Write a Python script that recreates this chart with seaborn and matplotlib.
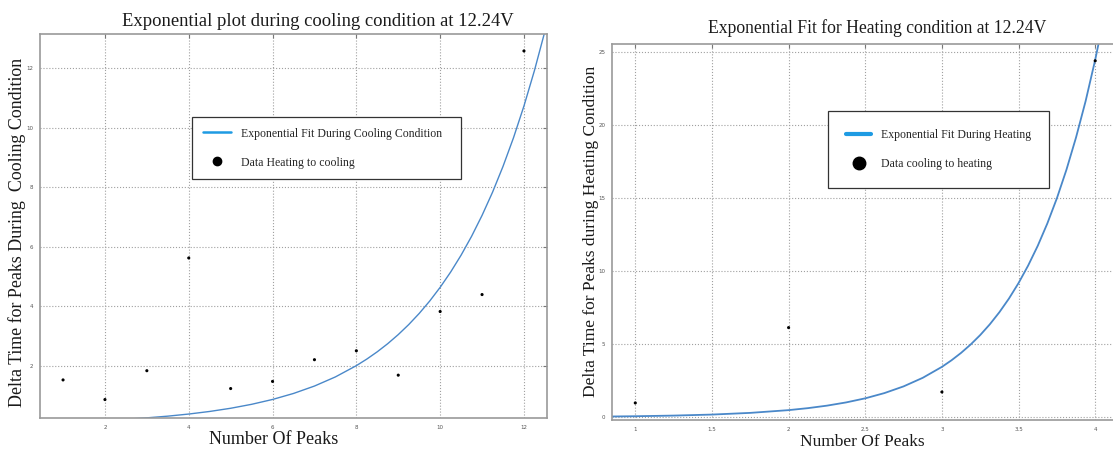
import matplotlib
matplotlib.use("Agg")
import matplotlib.pyplot as plt
from matplotlib.lines import Line2D
import seaborn as sns
import pandas as pd

# cooling condition (left panel)
cool_peaks = [1, 2, 3, 4, 5, 6, 7, 8, 9, 10, 11, 12]
cool_dt = [1.52, 0.86, 1.83, 5.62, 1.23, 1.47, 2.20, 2.50, 1.68, 3.82, 4.39, 12.58]
cool_fit_x = [2.5, 3.0, 3.5, 4.0, 4.5, 5.0, 5.5, 6.0, 6.5, 7.0, 7.5, 8.0, 8.25, 8.5,
              8.75, 9.0, 9.25, 9.5, 9.75, 10.0, 10.25, 10.5, 10.75, 11.0, 11.25, 11.5,
              11.75, 12.0, 12.25, 12.5]
cool_fit_y = [0.199, 0.245, 0.302, 0.373, 0.460, 0.567, 0.700, 0.863, 1.065, 1.314,
              1.621, 2.0, 2.221, 2.467, 2.740, 3.044, 3.381, 3.755, 4.171, 4.633,
              5.146, 5.715, 6.348, 7.051, 7.83, 8.698, 9.66, 10.73, 11.92, 13.24]

# heating condition (right panel)
heat_peaks = [1, 2, 3, 4]
heat_dt = [0.98, 6.14, 1.73, 24.42]
heat_fit_x = [0.85, 1.0, 1.25, 1.5, 1.75, 2.0, 2.125, 2.25, 2.375, 2.5, 2.625, 2.75,
              2.875, 3.0, 3.0625, 3.125, 3.1875, 3.25, 3.3125, 3.375, 3.4375, 3.5,
              3.5625, 3.625, 3.6875, 3.75, 3.8125, 3.875, 3.9375, 4.0, 4.05]
heat_fit_y = [0.051, 0.068, 0.112, 0.182, 0.298, 0.486, 0.621, 0.793, 1.014, 1.295,
              1.654, 2.113, 2.700, 3.45, 3.900, 4.408, 4.982, 5.631, 6.365, 7.195,
              8.132, 9.192, 10.39, 11.74, 13.27, 15.0, 16.96, 19.17, 21.66, 24.49,
              27.01]

sns.set_style("white")
plt.rcParams['font.family'] = ['DejaVu Sans']
serif = ['Liberation Serif', 'DejaVu Serif']
W, H = 1113, 450
fit_color = '#4a88c9'
leg_color = '#1e9be3'
edge = '#9a9a9a'

fig = plt.figure(figsize=(W / 100, H / 100), dpi=100)
ax1 = fig.add_axes([40 / W, 1 - 417.7 / H, 507 / W, 383.7 / H])
ax2 = fig.add_axes([612.3 / W, 1 - 420 / H, 505.9 / W, 375.7 / H])

cool_pts = pd.DataFrame({'x': cool_peaks, 'y': cool_dt})
cool_fit = pd.DataFrame({'x': cool_fit_x, 'y': cool_fit_y})
heat_pts = pd.DataFrame({'x': heat_peaks, 'y': heat_dt})
heat_fit = pd.DataFrame({'x': heat_fit_x, 'y': heat_fit_y})

sns.lineplot(data=cool_fit, x='x', y='y', ax=ax1, color=fit_color, lw=1.0,
             sort=False, estimator=None)
sns.scatterplot(data=cool_pts, x='x', y='y', ax=ax1, color='black', s=5,
                edgecolor='none', zorder=3)
sns.lineplot(data=heat_fit, x='x', y='y', ax=ax2, color=fit_color, lw=1.3,
             sort=False, estimator=None)
sns.scatterplot(data=heat_pts, x='x', y='y', ax=ax2, color='black', s=5,
                edgecolor='none', zorder=3)

ax1.set_xlim(0.45, 12.55)
ax1.set_ylim(0.25, 13.15)
ax1.set_xticks([2, 4, 6, 8, 10, 12])
ax1.set_yticks([2, 4, 6, 8, 10, 12])
ax2.set_xlim(0.85, 4.15)
ax2.set_ylim(-0.19, 25.55)
ax2.set_xticks([1, 1.5, 2, 2.5, 3, 3.5, 4])
ax2.set_xticklabels(['1', '1.5', '2', '2.5', '3', '3.5', '4'])
ax2.set_yticks([0, 5, 10, 15, 20, 25])

for ax in (ax1, ax2):
    ax.set_xlabel('')
    ax.set_ylabel('')
    ax.grid(True, linestyle=':', color='#a0a0a0', lw=0.8)
    ax.set_axisbelow(True)
    ax.tick_params(direction='in', top=True, right=True, length=3, width=0.8,
                   color='#777777', labelsize=4, labelcolor='#555555', pad=5)
    for s in ax.spines.values():
        s.set_color(edge)
        s.set_linewidth(1.2)

# legends
h1 = [Line2D([], [], color=leg_color, lw=1.8),
      Line2D([], [], color='black', marker='o', ls='none', markersize=6)]
ax1.legend(h1, ['Exponential Fit During Cooling Condition', 'Data Heating to cooling'],
           loc='upper left', bbox_to_anchor=(0.30, 0.619, 0.53, 0.165), mode='expand',
           borderaxespad=0, frameon=True, fancybox=False, edgecolor='#333333',
           framealpha=1, prop={'family': serif, 'size': 8.5}, handlelength=2.4,
           handletextpad=0.8, labelspacing=1.45, borderpad=0.9)
h2 = [Line2D([], [], color=leg_color, lw=3),
      Line2D([], [], color='black', marker='o', ls='none', markersize=9)]
ax2.legend(h2, ['Exponential Fit During Heating', 'Data cooling to heating'],
           loc='upper left', bbox_to_anchor=(0.426, 0.617, 0.437, 0.205), mode='expand',
           borderaxespad=0, frameon=True, fancybox=False, edgecolor='#333333',
           framealpha=1, prop={'family': serif, 'size': 8.5}, handlelength=2.2,
           handletextpad=0.8, labelspacing=1.45, borderpad=1.5)
for lg in (ax1.get_legend(), ax2.get_legend()):
    lg.get_frame().set_linewidth(0.9)

# titles and axis labels
fig.text(318 / W, 1 - 22 / H, 'Exponential plot during cooling condition at 12.24V',
         ha='center', va='center', family=serif, fontsize=13.4, color='#1a1a1a')
fig.text(877 / W, 1 - 28 / H, 'Exponential Fit for Heating condition at 12.24V',
         ha='center', va='center', family=serif, fontsize=12.7, color='#1a1a1a')
fig.text(17 / W, 1 - 232 / H, 'Delta Time for Peaks During  Cooling Condition',
         rotation=90, ha='center', va='center', family=serif, fontsize=12.9, color='#1a1a1a')
fig.text(591 / W, 1 - 231 / H, 'Delta Time for Peaks during Heating Condition',
         rotation=90, ha='center', va='center', family=serif, fontsize=12.5, color='#1a1a1a')
fig.text(274 / W, 1 - 440 / H, 'Number Of Peaks', ha='center', va='center',
         family=serif, fontsize=13, color='#1a1a1a')
fig.text(862 / W, 1 - 442 / H, 'Number Of Peaks', ha='center', va='center',
         family=serif, fontsize=12.5, color='#1a1a1a')

fig.savefig('out.png', dpi=100)
